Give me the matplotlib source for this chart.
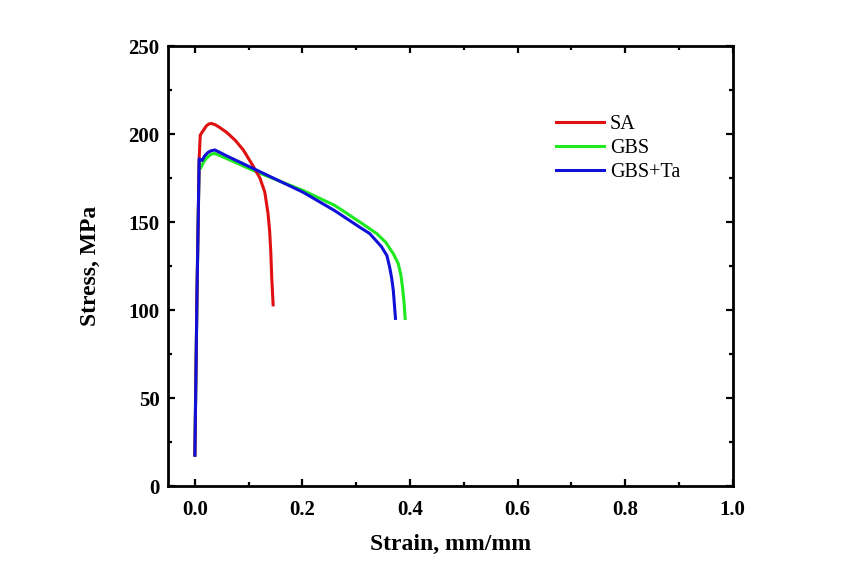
import matplotlib
matplotlib.use('Agg')
import matplotlib.pyplot as plt
from matplotlib.ticker import MultipleLocator

# Tensile curves (strain mm/mm, stress MPa)
sa_strain = [0.000, 0.004, 0.008, 0.010, 0.0155, 0.021, 0.026, 0.031, 0.038, 0.045, 0.059,
             0.075, 0.090, 0.108, 0.121, 0.130, 0.136, 0.139, 0.141, 0.143, 0.1455]
sa_stress = [17.6, 110.0, 186.0, 199.4, 202.0, 204.5, 205.8, 206.0, 205.3, 204.0, 201.0,
             196.5, 191.0, 182.0, 175.0, 167.0, 155.0, 145.0, 134.0, 118.0, 103.0]

gbs_strain = [0.000, 0.004, 0.008, 0.0105, 0.016, 0.022, 0.030, 0.037, 0.060, 0.115, 0.201,
              0.260, 0.307, 0.338, 0.355, 0.369, 0.378, 0.383, 0.386, 0.389, 0.391]
gbs_stress = [17.6, 110.0, 184.0, 180.5, 184.0, 186.5, 188.5, 189.0, 186.0, 178.5, 168.0,
              159.5, 150.0, 143.5, 138.5, 132.0, 126.5, 120.0, 113.0, 104.0, 95.3]

gbsta_strain = [0.000, 0.004, 0.008, 0.0136, 0.018, 0.024, 0.030, 0.037, 0.060, 0.115, 0.201,
                0.260, 0.307, 0.325, 0.347, 0.357, 0.362, 0.366, 0.369, 0.371, 0.373]
gbsta_stress = [17.6, 110.0, 186.0, 185.0, 187.5, 189.5, 190.5, 191.0, 187.5, 179.5, 167.0,
                156.5, 147.0, 143.5, 136.0, 131.0, 124.6, 118.0, 111.0, 103.0, 95.3]

plt.rcParams['font.family'] = ['Liberation Serif', 'DejaVu Serif']

fig = plt.figure(figsize=(8.57, 5.76), dpi=100)
ax = fig.add_axes([0.196, 0.156, 0.659, 0.764])

ax.plot(gbs_strain, gbs_stress, color='#1ee81e', lw=2.2, label='GBS', zorder=2)
ax.plot(sa_strain, sa_stress, color='#e01010', lw=2.2, label='SA', zorder=2.5)
ax.plot(gbsta_strain, gbsta_stress, color='#1010d8', lw=2.2, label='GBS+Ta', zorder=4)

ax.set_xlim(-0.05, 1.0)
ax.set_ylim(0, 250)
ax.xaxis.set_major_locator(MultipleLocator(0.2))
ax.xaxis.set_minor_locator(MultipleLocator(0.1))
ax.yaxis.set_major_locator(MultipleLocator(50))
ax.yaxis.set_minor_locator(MultipleLocator(25))
ax.set_xticks([0.0, 0.2, 0.4, 0.6, 0.8, 1.0])
ax.set_xticklabels(['0.0', '0.2', '0.4', '0.6', '0.8', '1.0'])

ax.tick_params(which='both', direction='in', top=True, right=True, width=1.6)
ax.tick_params(which='major', length=5, labelsize=15)
ax.tick_params(which='minor', length=3)
ax.tick_params(axis='x', which='major', pad=10)
ax.tick_params(axis='y', which='major', pad=6)
for lab in ax.get_xticklabels() + ax.get_yticklabels():
    lab.set_fontweight('bold')
for sp in ax.spines.values():
    sp.set_linewidth(2.0)

ax.set_xlabel('Strain, mm/mm', fontsize=17, fontweight='bold', labelpad=10)
ax.set_ylabel('Stress, MPa', fontsize=17, fontweight='bold', labelpad=20)

handles, labels = ax.get_legend_handles_labels()
order = [1, 0, 2]
ax.legend([handles[i] for i in order], [labels[i] for i in order],
          loc='upper left', bbox_to_anchor=(0.672, 0.862), frameon=False,
          fontsize=14.5, handlelength=2.4, handletextpad=0.3, labelspacing=0.25,
          borderaxespad=0)

fig.savefig('out.png', dpi=100)
